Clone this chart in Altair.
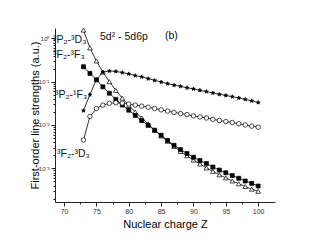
import altair as alt
import pandas as pd

Z = list(range(73, 101))

p2_3d3 = [1.55, 0.60, 0.30, 0.166, 0.100, 0.063, 0.0417, 0.0282, 0.0200, 0.0145,
          0.0105, 0.0076, 0.0056, 0.0042, 0.0032, 0.00245, 0.00195, 0.00155, 0.00126,
          0.00102, 0.00085, 0.00071, 0.00060, 0.00051, 0.00044, 0.00038, 0.00033, 0.000295]
f2_3f3 = [0.221, 0.155, 0.110, 0.076, 0.054, 0.039, 0.0288, 0.0219, 0.0166, 0.0126,
          0.0098, 0.0076, 0.0058, 0.0044, 0.0034, 0.0027, 0.0022, 0.0018, 0.00151,
          0.00129, 0.00107, 0.00091, 0.00079, 0.00068, 0.00059, 0.00051, 0.00045, 0.00039]
p2_1f3 = [0.0214, 0.050, 0.112, 0.166, 0.176, 0.172, 0.162, 0.151, 0.138, 0.129,
          0.117, 0.107, 0.098, 0.090, 0.083, 0.078, 0.072, 0.068, 0.063, 0.059,
          0.055, 0.051, 0.048, 0.045, 0.042, 0.039, 0.036, 0.033]
f2_3d3 = [0.0045, 0.0158, 0.024, 0.0288, 0.0316, 0.0326, 0.0320, 0.0305, 0.0288, 0.0272,
          0.0257, 0.0240, 0.0224, 0.0209, 0.0195, 0.0184, 0.0174, 0.0162, 0.0153, 0.0145,
          0.0135, 0.0127, 0.0120, 0.0114, 0.0107, 0.0100, 0.0094, 0.0089]

series_names = ["3P2-3D3", "3F2-3F3", "3P2-1F3", "3F2-3D3"]
series_vals = [p2_3d3, f2_3f3, p2_1f3, f2_3d3]

x_ticks = [70, 72.5, 75, 77.5, 80, 82.5, 85, 87.5, 90, 92.5, 95, 97.5, 100]
y_ticks = [k * 10.0 ** e for e in range(-4, 1) for k in range(1, 10)]
y_ticks = [v for v in y_ticks if 1.7e-4 <= v <= 1.7]

labels = ["³P₂-³D₃", "³F₂-³F₃", "³P₂-¹F₃", "³F₂-³D₃"]
label_pos = [(-2, 12), (-2, 27), (0, 67), (2, 126)]

FONT = "Liberation Sans"
STAR = "M0,-1L0.2245,-0.309L0.951,-0.309L0.363,0.118L0.588,0.809L0,0.382L-0.588,0.809L-0.363,0.118L-0.951,-0.309L-0.2245,-0.309Z"

xs = alt.Scale(domain=[68.6, 102.6], nice=False, zero=False)
ys = alt.Scale(type="log", domain=[1.67e-4, 1.73], nice=False)

x_axis = alt.Axis(
    values=x_ticks, title="Nuclear charge Z", grid=False,
    labelExpr="datum.value % 5 == 0 ? datum.label : ''",
    tickSize={"condition": {"test": "datum.value % 5 == 0", "value": 4}, "value": 2},
    labelFontSize=7, labelFont=FONT, labelColor="#333", titleFont=FONT,
    titleFontSize=11, titleFontWeight="normal", titlePadding=4, labelPadding=1,
    domainColor="#222", tickColor="#222", labelFlush=False, labelOverlap=False)

major_test = "abs(log(datum.value)/LN10 - round(log(datum.value)/LN10)) < 1e-6"
y_axis = alt.Axis(
    values=y_ticks, title="First-order line strengths (a.u.)", grid=False,
    labelExpr=("abs(log(datum.value)/LN10) < 1e-6 ? '10⁰' : "
               "abs(log(datum.value)/LN10 + 1) < 1e-6 ? '10⁻¹' : "
               "abs(log(datum.value)/LN10 + 2) < 1e-6 ? '10⁻²' : "
               "abs(log(datum.value)/LN10 + 3) < 1e-6 ? '10⁻³' : ''"),
    tickSize={"condition": {"test": major_test, "value": 4}, "value": 2},
    labelFontSize=6, labelFont=FONT, labelColor="#333", titleFont=FONT,
    titleFontSize=11, titleFontWeight="normal", titlePadding=-2, labelPadding=2,
    domainColor="#222", tickColor="#222", labelFlush=False, labelOverlap=False)

rows = []
for name, vals in zip(series_names, series_vals):
    for z, v in zip(Z, vals):
        rows.append({"Z": z, "S": v, "series": name})
df = pd.DataFrame(rows)

styles = {
    "3P2-3D3": dict(shape="triangle-up", fill="white", size=22),
    "3F2-3F3": dict(shape="square", fill="black", size=16),
    "3P2-1F3": dict(shape=STAR, fill="black", size=16),
    "3F2-3D3": dict(shape="circle", fill="white", size=20),
}

enc_x = alt.X("Z:Q", scale=xs, axis=x_axis)
enc_y = alt.Y("S:Q", scale=ys, axis=y_axis)

layers = []
for name in series_names:
    base = alt.Chart(df).transform_filter(alt.datum.series == name)
    line = base.mark_line(color="black", strokeWidth=0.8).encode(x=enc_x, y=enc_y)
    st = styles[name]
    pts = base.mark_point(shape=st["shape"], filled=True, fill=st["fill"],
                          stroke="black", strokeWidth=0.7, size=st["size"],
                          opacity=1).encode(x=enc_x, y=enc_y)
    layers += [line, pts]

for i, t in enumerate(labels):
    layers.append(alt.Chart(pd.DataFrame({"t": [t]})).mark_text(
        align="left", baseline="middle", font=FONT, fontSize=10.5, color="#111"
    ).encode(x=alt.value(label_pos[i][0]), y=alt.value(label_pos[i][1]), text="t:N"))

layers.append(alt.Chart(pd.DataFrame({"t": ["5d² - 5d6p"]})).mark_text(
    align="left", baseline="middle", font=FONT, fontSize=10.5, color="#111"
).encode(x=alt.value(45), y=alt.value(9), text="t:N"))
layers.append(alt.Chart(pd.DataFrame({"t": ["(b)"]})).mark_text(
    align="left", baseline="middle", font=FONT, fontSize=10.5, color="#111"
).encode(x=alt.value(110), y=alt.value(8), text="t:N"))

chart = alt.layer(*layers).properties(
    width=220, height=174,
    autosize=alt.AutoSizeParams(type="none"),
    padding={"left": 47, "top": 20, "right": 37, "bottom": 35},
    background="white",
).configure_view(stroke=None)

chart.save("out.html", embed_options={"renderer": "svg", "actions": False})
